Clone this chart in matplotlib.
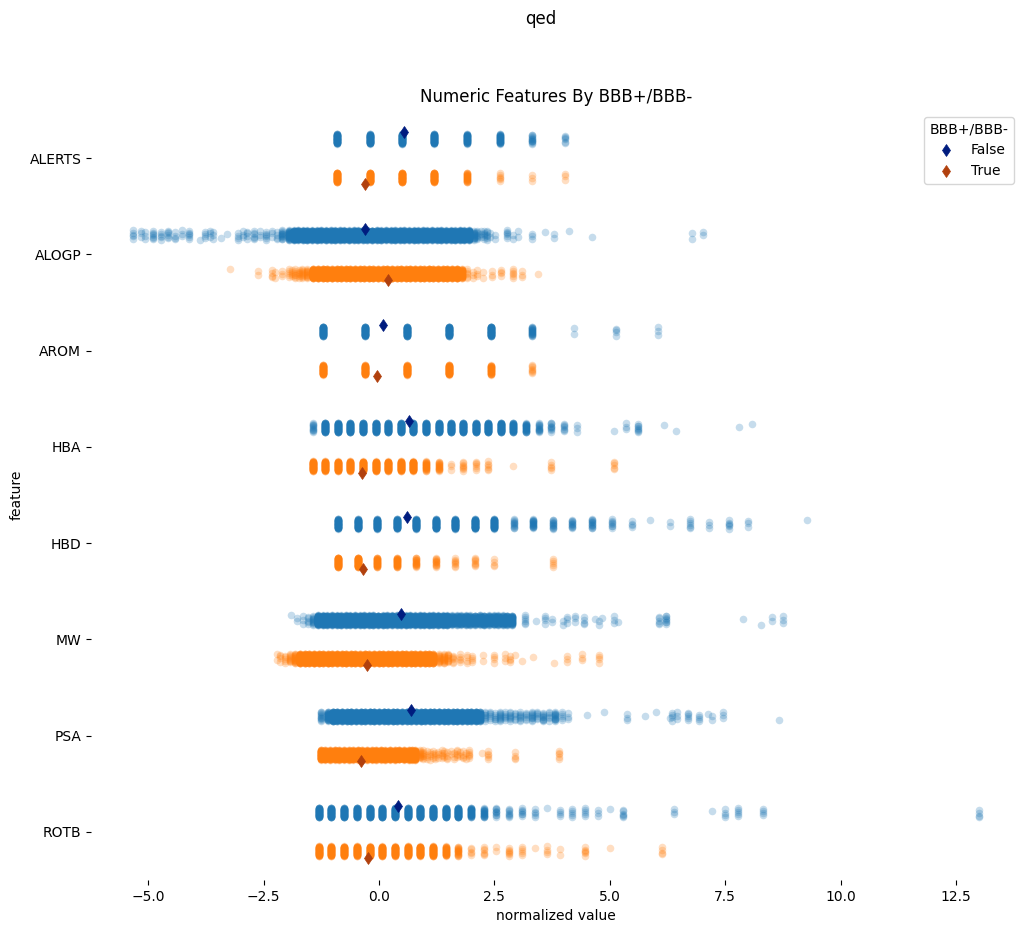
import numpy as np
import matplotlib
matplotlib.use('Agg')
import matplotlib.pyplot as plt
from matplotlib.lines import Line2D

features = ['ALERTS', 'ALOGP', 'AROM', 'HBA', 'HBD', 'MW', 'PSA', 'ROTB']

mean_false = [0.54, -0.30, 0.09, 0.66, 0.61, 0.48, 0.70, 0.42]
mean_true = [-0.30, 0.20, -0.04, -0.36, -0.34, -0.25, -0.38, -0.23]

# each series: distinct normalized values and how many compounds sit on them (estimated)
alerts_f_x = [-0.91, -0.20, 0.50, 1.20, 1.90, 2.62, 3.32, 4.03]
alerts_f_n = [70, 70, 70, 70, 50, 40, 14, 6]
alerts_t_x = [-0.91, -0.20, 0.50, 1.20, 1.90, 2.62, 3.32, 4.03]
alerts_t_n = [70, 70, 70, 70, 30, 6, 3, 3]

alogp_f_x = [-5.32, -5.16, -5.07, -4.89, -4.73, -4.58, -4.42, -4.27, -4.12, -3.88, -3.77, -3.66, -3.59,
             -3.43, -3.29, -3.05, -2.94, -2.85, -2.71, -2.58, -2.45, -2.32, -2.22, -2.11, -1.96,
             -1.85, -1.75, -1.65, -1.55, -1.45, -1.35, -1.25, -1.15, -1.05, -0.95, -0.85, -0.75, -0.65,
             -0.55, -0.45, -0.35, -0.25, -0.15, -0.05, 0.05, 0.15, 0.25, 0.35, 0.45, 0.55, 0.65, 0.75,
             0.85, 0.95, 1.05, 1.15, 1.25, 1.35, 1.45, 1.55, 1.65, 1.75, 1.85, 1.95,
             2.05, 2.12, 2.20, 2.27, 2.33, 2.40, 2.51, 2.78, 2.91, 3.00, 3.31, 3.60, 3.78, 4.12, 4.61, 6.79, 7.02]
alogp_f_n = [5, 3, 3, 7, 5, 6, 4, 3, 6, 1, 4, 3, 3,
             1, 1, 4, 3, 4, 6, 3, 6, 3, 4, 14, 30,
             70, 70, 70, 70, 70, 70, 70, 70, 70, 70, 70, 70, 70,
             70, 70, 70, 70, 70, 70, 70, 70, 70, 70, 70, 70, 70, 70,
             70, 70, 70, 70, 70, 70, 70, 70, 70, 70, 70, 70,
             14, 8, 3, 6, 6, 2, 2, 6, 2, 2, 3, 1, 2, 1, 1, 2, 2]
alogp_t_x = [-3.23, -2.61, -2.32, -2.25, -2.11, -1.96, -1.89, -1.82, -1.74, -1.67, -1.57,
             -1.42, -1.32, -1.22, -1.12, -1.02, -0.92, -0.82, -0.72, -0.62, -0.52, -0.42, -0.32, -0.22,
             -0.12, -0.02, 0.08, 0.18, 0.28, 0.38, 0.48, 0.58, 0.68, 0.78, 0.88, 0.98, 1.08, 1.18, 1.28,
             1.38, 1.48, 1.58, 1.68, 1.79,
             1.90, 2.04, 2.12, 2.26, 2.44, 2.64, 2.90, 3.09, 3.44]
alogp_t_n = [1, 2, 4, 2, 3, 5, 4, 7, 6, 10, 14,
             70, 70, 70, 70, 70, 70, 70, 70, 70, 70, 70, 70, 70,
             70, 70, 70, 70, 70, 70, 70, 70, 70, 70, 70, 70, 70, 70, 70,
             70, 70, 70, 70, 40,
             6, 3, 3, 2, 3, 4, 6, 3, 1]

arom_f_x = [-1.21, -0.30, 0.61, 1.52, 2.43, 3.32, 4.23, 5.14, 6.04]
arom_f_n = [70, 70, 70, 70, 70, 24, 2, 4, 3]
arom_t_x = [-1.21, -0.30, 0.61, 1.52, 2.43, 3.32]
arom_t_n = [70, 70, 70, 70, 40, 8]

hba_f_x = [-1.44, -1.16, -0.89, -0.62, -0.35, -0.07, 0.20, 0.48, 0.74, 1.01, 1.29, 1.55, 1.83, 2.10, 2.37,
           2.64, 2.91, 3.18, 3.46, 3.73, 4.00, 4.28, 5.08, 5.36, 5.62, 6.17, 6.44, 7.80, 8.07]
hba_f_n = [12, 70, 70, 70, 70, 70, 70, 70, 70, 70, 70, 70, 70, 70, 70,
           70, 50, 30, 14, 10, 7, 3, 1, 3, 8, 1, 1, 1, 1]
hba_t_x = [-1.44, -1.16, -0.89, -0.62, -0.35, -0.07, 0.20, 0.48, 0.74, 1.01, 1.29, 1.55, 1.83, 2.10, 2.37,
           2.91, 3.73, 5.08]
hba_t_n = [70, 70, 70, 70, 70, 70, 70, 70, 70, 30, 20, 3, 8, 6, 6, 1, 5, 5]

hbd_f_x = [-0.89, -0.46, -0.04, 0.38, 0.80, 1.23, 1.65, 2.08, 2.50, 2.92, 3.34, 3.77, 4.19, 4.61, 5.04,
           5.47, 5.88, 6.31, 6.73, 7.15, 7.58, 8.00, 9.27]
hbd_f_n = [70, 70, 70, 70, 70, 70, 70, 70, 60, 12, 20, 14, 12, 14, 8, 4, 1, 2, 6, 3, 6, 3, 1]
hbd_t_x = [-0.89, -0.46, -0.04, 0.38, 0.80, 1.23, 1.65, 2.08, 2.50, 3.77]
hbd_t_n = [70, 70, 40, 40, 20, 14, 8, 8, 4, 5]

mw_f_x = [-1.91, -1.78, -1.64, -1.53, -1.42,
          -1.32, -1.22, -1.12, -1.02, -0.92, -0.82, -0.72, -0.62, -0.52, -0.42, -0.32, -0.22, -0.12, -0.02,
          0.08, 0.18, 0.28, 0.38, 0.48, 0.58, 0.68, 0.78, 0.88, 0.98, 1.08, 1.18, 1.28, 1.38, 1.48,
          1.58, 1.68, 1.78, 1.88, 1.98, 2.08, 2.18, 2.28, 2.38, 2.48, 2.58, 2.68, 2.78, 2.88,
          3.16, 3.40, 3.60, 3.74, 3.99, 4.08, 4.25, 4.43, 4.67, 4.77, 4.82, 5.09, 5.18,
          6.06, 6.21, 7.89, 8.28, 8.51, 8.74]
mw_f_n = [1, 2, 3, 5, 12,
          70, 70, 70, 70, 70, 70, 70, 70, 70, 70, 70, 70, 70, 70,
          70, 70, 70, 70, 70, 70, 70, 70, 70, 70, 70, 70, 70, 70, 70,
          40, 40, 40, 40, 40, 40, 40, 40, 40, 40, 40, 40, 40, 40,
          6, 1, 4, 2, 2, 3, 3, 4, 1, 2, 1, 3, 1,
          5, 8, 1, 1, 2, 3]
mw_t_x = [-2.22, -2.14, -2.04, -1.93, -1.82,
          -1.71, -1.61, -1.51, -1.41, -1.31, -1.21, -1.11, -1.01, -0.91, -0.81, -0.71, -0.61, -0.51, -0.41,
          -0.31, -0.21, -0.11, -0.01, 0.09, 0.19, 0.29, 0.39, 0.49, 0.59, 0.69, 0.79, 0.89, 0.99, 1.09, 1.18,
          1.30, 1.40, 1.50, 1.60, 1.75, 1.90, 2.01, 2.26, 2.48, 2.73, 2.84, 2.95, 3.09, 3.34, 3.78,
          4.08, 4.39, 4.77]
mw_t_n = [2, 4, 5, 10, 20,
          70, 70, 70, 70, 70, 70, 70, 70, 70, 70, 70, 70, 70, 70,
          70, 70, 70, 70, 70, 70, 70, 70, 70, 70, 70, 70, 70, 70, 70, 50,
          14, 14, 10, 6, 5, 4, 4, 2, 4, 3, 4, 1, 1, 1, 1,
          3, 3, 4]

psa_f_x = [-1.26, -1.10,
           -1.00, -0.90, -0.80, -0.70, -0.60, -0.50, -0.40, -0.30, -0.20, -0.10, 0.00, 0.10, 0.20, 0.30,
           0.40, 0.50, 0.60, 0.70, 0.80, 0.90, 1.00, 1.10, 1.20, 1.30, 1.40, 1.50, 1.60, 1.70, 1.80, 1.90,
           2.00, 2.10, 2.19,
           2.30, 2.40, 2.51, 2.62, 2.73, 2.84, 2.95, 3.05, 3.18, 3.31, 3.43, 3.56, 3.68, 3.81, 3.96, 4.10,
           4.50, 4.88, 5.37, 5.77, 6.00,
           6.30, 6.35, 6.46, 6.69, 6.94, 7.13, 7.21, 7.44, 8.67]
psa_f_n = [12, 30,
           70, 70, 70, 70, 70, 70, 70, 70, 70, 70, 70, 70, 70, 70,
           70, 70, 70, 70, 70, 70, 70, 70, 70, 70, 70, 70, 70, 70, 70, 70,
           70, 70, 40,
           8, 6, 6, 10, 6, 8, 5, 8, 6, 10, 6, 10, 6, 14, 5, 3,
           1, 1, 3, 1, 1,
           1, 4, 3, 5, 4, 1, 2, 3, 1]
psa_t_x = [-1.26, -1.16, -1.06, -0.96, -0.86, -0.76, -0.66, -0.56, -0.46, -0.36, -0.26, -0.16, -0.06,
           0.04, 0.14, 0.24, 0.34, 0.44, 0.54, 0.64, 0.72, 0.78,
           0.88, 0.96, 1.03, 1.10, 1.16, 1.21, 1.28, 1.36, 1.41, 1.47, 1.55, 1.62, 1.68, 1.75, 1.83, 1.88, 1.94,
           2.23, 2.37, 2.95, 3.89]
psa_t_n = [70, 70, 70, 70, 70, 70, 70, 70, 70, 70, 70, 70, 70,
           70, 70, 70, 70, 70, 70, 70, 70, 70,
           10, 8, 4, 4, 3, 4, 3, 5, 3, 4, 2, 3, 5, 2, 4, 2, 6,
           1, 5, 4, 5]

rotb_f_x = [-1.31, -1.03, -0.76, -0.48, -0.20, 0.07, 0.35, 0.62, 0.89, 1.16, 1.45, 1.72, 1.99, 2.27, 2.54,
            2.82, 3.09, 3.37, 3.64, 3.91, 4.19, 4.47, 4.74, 5.01, 5.29, 6.39, 7.22, 7.49, 7.77, 8.32, 12.99]
rotb_f_n = [70, 70, 70, 70, 70, 70, 70, 70, 70, 70, 70, 70, 40, 22, 10,
            8, 7, 5, 1, 4, 5, 5, 3, 1, 6, 3, 1, 4, 5, 4, 4]
rotb_t_x = [-1.31, -1.03, -0.76, -0.48, -0.20, 0.07, 0.35, 0.62, 0.89, 1.16, 1.45, 1.72, 1.99, 2.27, 2.54,
            2.82, 3.09, 3.37, 3.64, 3.91, 4.47, 5.01, 6.12]
rotb_t_n = [70, 70, 70, 70, 70, 70, 70, 70, 70, 70, 40, 20, 5, 6, 2, 7, 5, 1, 4, 2, 6, 1, 4]

false_series = [(alerts_f_x, alerts_f_n), (alogp_f_x, alogp_f_n), (arom_f_x, arom_f_n), (hba_f_x, hba_f_n),
                (hbd_f_x, hbd_f_n), (mw_f_x, mw_f_n), (psa_f_x, psa_f_n), (rotb_f_x, rotb_f_n)]
true_series = [(alerts_t_x, alerts_t_n), (alogp_t_x, alogp_t_n), (arom_t_x, arom_t_n), (hba_t_x, hba_t_n),
               (hbd_t_x, hbd_t_n), (mw_t_x, mw_t_n), (psa_t_x, psa_t_n), (rotb_t_x, rotb_t_n)]


def spread(n_points, width=0.05):
    # fixed vertical scatter inside a strip, golden ratio steps so nothing random
    steps = np.arange(n_points) * 0.618034 % 1
    return (steps * 2 - 1) * width


fig = plt.figure(figsize=(10.31, 9.33), dpi=100)
ax = fig.add_axes([91 / 1031, 53 / 933, 930 / 1031, 770 / 933])

for i in range(len(features)):
    for (vals, counts), off, col in ((false_series[i], -0.2, 'C0'), (true_series[i], 0.2, 'C1')):
        x = np.repeat(vals, counts)
        y = i + off + spread(len(x))
        ax.scatter(x, y, s=30, color=col, alpha=0.25, linewidths=0)

ypos = np.arange(len(features))
ax.plot(mean_false, ypos - 0.267, 'd', color='#001c7f', ms=6.2, mew=0.5, zorder=5)
ax.plot(mean_true, ypos + 0.267, 'd', color='#b1400d', ms=6.2, mew=0.5, zorder=5)

ax.set_yticks(ypos)
ax.set_yticklabels(features)
ax.set_xlim((91 - 379) / 46.17, (1021 - 379) / 46.17)
ax.set_ylim(7.5, -0.5)
for side in ['top', 'right', 'left', 'bottom']:
    ax.spines[side].set_visible(False)

ax.set_xlabel('normalized value')
ax.set_ylabel('feature')
ax.set_title('Numeric Features By BBB+/BBB-')
fig.suptitle('qed', x=541 / 1031, y=1 - 10 / 933)

handles = [Line2D([], [], ls='', marker='d', color='#001c7f', ms=6.2, mew=0.5),
           Line2D([], [], ls='', marker='d', color='#b1400d', ms=6.2, mew=0.5)]
ax.legend(handles, ['False', 'True'], title='BBB+/BBB-', loc='upper right')

fig.savefig('out.png', dpi=100)
